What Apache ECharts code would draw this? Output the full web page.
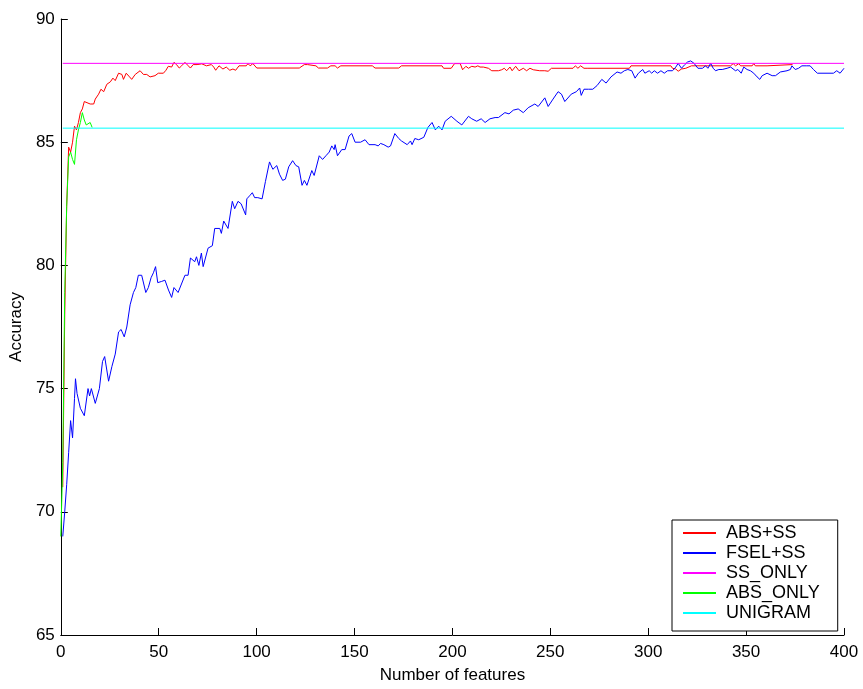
<!DOCTYPE html>
<html>
<head>
<meta charset="utf-8">
<script src="https://cdn.jsdelivr.net/npm/echarts@6/dist/echarts.min.js"></script>
<style>
html,body{margin:0;padding:0;background:#fff;}
#chart{width:863px;height:689px;}
</style>
</head>
<body>
<div id="chart"></div>
<script>
// ---- Data ----
const xTicks = [0, 50, 100, 150, 200, 250, 300, 350, 400];
const yTicks = [65, 70, 75, 80, 85, 90];
const seriesNames = ['ABS+SS', 'FSEL+SS', 'SS_ONLY', 'ABS_ONLY', 'UNIGRAM'];

// ABS+SS
const absSsX = [1,2,3,4,5,6,7,8,9,10,11,12,13,15,16.8,17.6,19.3,20.5,21.9,23.5,25.3,26.6,27.8,29.5,31.2,32,33.4,35.1,36.2,38,40.5,42.2,43.9,45.6,48.1,49.8,52.4,53.7,54.9,56.6,57.8,59.1,60.5,61.7,63.4,65.1,66.2,67.6,69.6,72,74.4,76.9,78.1,79.1,80.8,82.8,84.5,86.3,87.9,89.3,91,94.7,95.6,96.7,98.1,100.1,121.8,124.4,126,126.9,130.3,131.6,136.2,137.9,140.1,141.3,143,159.1,160.5,172.6,174,194.7,195.5,199.4,201.1,204,205.2,206.9,208.2,209.9,211.6,213,214.1,215.8,218.4,220.1,223.5,225.2,226.5,227.7,229.4,230.5,232.3,234,236.2,237.9,239.6,241.3,242.1,244.6,247.2,248.9,250.6,261.6,262.8,264.1,265.5,267.2,269.2,290.4,291.2,311.6,312.4,314.1,315.3,317,319.2,322.1,342.1,343.4,344.6,346.3,347.2,353.1,353.9,354.7,360.7,361,373.7];
const absSsY = [71.0,78.0,82.4,84.8,84.6,85.0,85.65,85.5,85.8,86.2,86.35,86.65,86.6,86.55,86.55,86.75,86.95,87.15,87.05,87.35,87.45,87.6,87.5,87.8,87.75,87.55,87.8,87.65,87.55,87.75,87.9,87.75,87.75,87.65,87.7,87.8,87.8,87.92,88.08,88.05,88.24,88.15,88.01,88.1,88.24,88.1,88.01,88.15,88.15,88.18,88.1,88.15,88.05,87.92,88.1,87.97,88.05,87.92,87.97,87.92,88.1,88.1,88.19,88.1,88.19,88.01,88.01,88.15,88.15,88.1,88.1,88.01,88.01,88.1,88.1,88.01,88.1,88.1,88.01,88.01,88.1,88.1,88.0,88.0,88.19,88.19,87.94,88.08,88.0,88.08,88.05,88.1,88.05,88.05,88.0,87.9,87.9,87.94,88.0,87.9,88.05,87.9,88.08,87.9,88.0,87.9,88.0,87.94,88.0,87.9,87.9,87.88,88.0,88.0,88.1,88.0,88.1,88.0,88.0,88.0,88.1,88.1,88.0,87.97,87.88,87.97,88.0,88.1,88.1,88.19,88.1,88.19,88.1,88.1,88.19,88.1,88.1,88.15,88.15];

// FSEL+SS
const fselX = [1,2,3,4,5,6,7,7.5,8.3,10,12,13.9,14.7,15.6,17.6,19.7,20.7,21.3,22.4,24.4,26.1,26.9,27.8,29.5,30.8,32.4,33.7,34.6,35.4,37.1,38.3,39.6,41.3,43.4,44.7,46.1,47.3,48.4,49.5,51.5,53.2,55,56.6,57.8,59.9,63.4,65,66.2,68.4,69.3,70.5,71.8,72.7,75.2,77.4,78.6,81.2,82,83.2,84.2,85.4,87.6,88.8,90.5,92.1,94.4,95,96.7,97.8,99,100.6,102.8,104.5,106.6,108.3,110.3,111.7,113.3,114.7,116.4,118.4,120.1,121.5,123.2,124.4,125.7,128.2,129.4,130.3,132,133.7,135.4,137.1,138.4,139.6,140.1,141.3,143.5,145.2,147.2,148.6,150.3,153.1,155.4,157.4,160.5,162.1,163.3,165,167.2,168.4,169.3,170.6,172.6,174,176.9,178.6,179.4,180.8,182.8,185.4,187.5,189.6,191.3,193,194.7,196.3,199.4,202.3,204.8,208.2,209.9,212.4,214.7,216.7,219.2,221.8,223.5,226.8,228.9,231.1,233.6,236.2,238.7,242.1,243.8,247.2,248.9,251.4,254,255.7,257.4,260.7,263.3,265,265.8,267.2,269.5,271.7,273.9,276.3,278.5,281,284.1,286.1,287.8,289.6,291.6,293.3,295,297.2,298.3,300.5,301.8,303.1,304.8,306.5,308.2,309.9,312.4,314.1,315.3,317,318.7,320,321.7,323.4,325.4,327.7,329.3,330.5,331.9,333.2,334.4,336.1,337.8,340.3,342.1,344.6,345.8,347.5,348.8,350.5,352.2,353.9,355.6,357,358.2,360.7,363.3,365,367.5,370.9,372.6,373.4,375.1,376.8,378.5,381,382.7,384.4,386.4,394.6,396.3,398,400];
const fselY = [69.0,70.0,71.1,72.4,73.7,73.0,74.6,75.4,74.8,74.2,73.9,75.0,74.7,75.0,74.4,75.0,75.0,76.1,76.3,75.3,75.9,75.85,76.4,77.3,77.4,77.1,77.5,77.5,78.4,78.9,79.1,79.6,79.6,78.9,79.1,79.5,79.7,79.95,79.3,79.35,79.4,79.0,78.7,79.1,78.9,79.6,79.6,80.3,80.15,80.35,80.0,80.5,79.95,80.7,80.8,81.5,81.5,81.3,81.8,81.75,81.5,82.6,82.3,82.6,82.5,82.05,82.7,82.85,82.95,82.75,82.75,82.7,83.4,84.2,83.9,84.05,83.7,83.45,83.5,84.0,84.25,84.05,84.0,83.25,83.45,83.25,83.85,83.65,83.7,84.45,84.3,84.45,84.6,84.85,84.7,84.9,84.45,84.7,84.7,85.25,85.35,85.0,85.0,85.1,84.9,84.9,84.85,84.95,84.9,84.8,84.85,84.9,85.35,85.15,85.05,84.9,85.05,84.9,85.15,85.1,85.2,85.6,85.8,85.5,85.65,85.5,85.85,86.05,85.85,85.7,86.05,85.95,85.85,85.95,85.8,85.95,86.0,86.0,86.2,86.15,86.3,86.35,86.2,86.4,86.55,86.45,86.8,86.45,86.75,87.05,86.95,86.65,86.95,87.05,87.2,86.9,87.15,87.15,87.15,87.3,87.55,87.4,87.65,87.85,87.8,87.9,87.95,87.9,87.6,87.8,87.95,87.8,87.9,87.8,87.9,87.8,87.9,87.8,87.9,87.9,88.05,88.2,88.0,88.15,88.25,88.3,88.2,88.0,88.0,88.1,88.0,88.2,88.0,87.9,87.95,87.95,88.0,88.05,87.9,87.95,87.8,88.05,87.95,87.9,87.8,87.65,87.55,87.7,87.8,87.7,87.7,87.85,87.9,87.95,88.1,87.95,88.0,88.1,88.1,88.1,87.95,87.8,87.8,87.9,87.8,88.0];

// SS_ONLY (constant baseline)
const ssOnlyX = [1, 400];
const ssOnlyY = [88.2, 88.2];

// ABS_ONLY
const absOnlyX = [0,1,2,3,4,5,6,7,8,9,10,11,12,13,14,15,16];
const absOnlyY = [69.0,72.0,78.9,82.4,84.4,84.6,84.3,84.1,85.1,85.5,85.8,86.2,85.9,85.7,85.75,85.8,85.6];

// UNIGRAM (constant baseline)
const unigramX = [1, 400];
const unigramY = [85.57, 85.57];

// ---- Build chart ----
const zip = (xs, ys) => xs.map((x, i) => [x, ys[i]]);
const colors = ['#ff0000', '#0000ff', '#ff00ff', '#00ff00', '#00ffff'];
const seriesData = [
  zip(absSsX, absSsY),
  zip(fselX, fselY),
  zip(ssOnlyX, ssOnlyY),
  zip(absOnlyX, absOnlyY),
  zip(unigramX, unigramY)
];
const FONT = '"Liberation Sans", Arial, sans-serif';

const chart = echarts.init(document.getElementById('chart'), null, {renderer: 'canvas'});
chart.setOption({
  animation: false,
  backgroundColor: '#ffffff',
  grid: {left: 57, right: 19, top: 19, bottom: 50, containLabel: false},
  xAxis: {
    type: 'value',
    min: xTicks[0], max: xTicks[xTicks.length - 1], interval: xTicks[1] - xTicks[0],
    name: 'Number of features', nameLocation: 'middle', nameGap: 32,
    nameTextStyle: {fontFamily: FONT, fontSize: 17, color: '#000'},
    axisLine: {onZero: false, lineStyle: {color: '#000', width: 1}},
    axisTick: {inside: true, length: 7, lineStyle: {color: '#000'}},
    axisLabel: {fontFamily: FONT, fontSize: 17, color: '#000', margin: 9},
    splitLine: {show: false}
  },
  yAxis: {
    type: 'value',
    min: yTicks[0], max: yTicks[yTicks.length - 1], interval: yTicks[1] - yTicks[0],
    name: 'Accuracy', nameLocation: 'middle', nameGap: 27, nameRotate: 90,
    nameTextStyle: {fontFamily: FONT, fontSize: 17, color: '#000'},
    axisLine: {show: true, onZero: false, lineStyle: {color: '#000', width: 1}},
    axisTick: {show: true, inside: true, length: 7, lineStyle: {color: '#000'}},
    axisLabel: {fontFamily: FONT, fontSize: 17, color: '#000', margin: 6},
    splitLine: {show: false}
  },
  legend: {
    orient: 'vertical',
    left: 672, top: 520,
    data: seriesNames,
    backgroundColor: '#fff',
    borderColor: '#000', borderWidth: 1, borderRadius: 0,
    padding: [4, 18, 9, 10],
    itemWidth: 33, itemHeight: 18, itemGap: 2,
    itemStyle: {opacity: 0},
    textStyle: {fontFamily: FONT, fontSize: 18, color: '#000', padding: [0, 0, 0, 5]}
  },
  series: seriesNames.map((name, i) => ({
    name: name,
    type: 'line',
    data: seriesData[i],
    symbol: 'none',
    showSymbol: false,
    lineStyle: {color: colors[i], width: 1},
    itemStyle: {color: colors[i]},
    z: 2 + i
  }))
});
</script>
</body>
</html>
